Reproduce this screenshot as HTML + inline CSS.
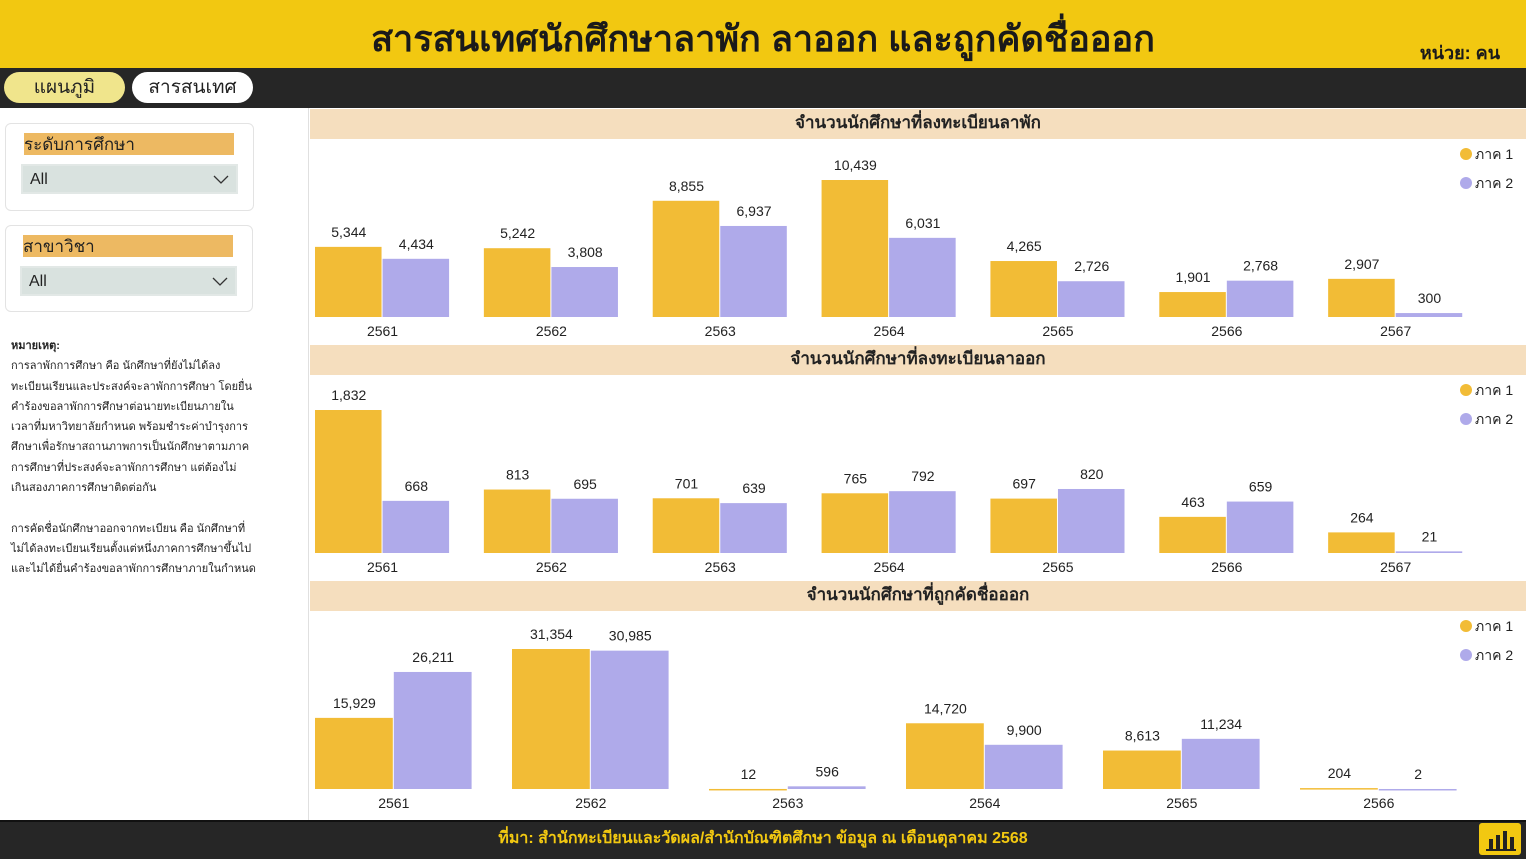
<!DOCTYPE html>
<html><head><meta charset="utf-8">
<style>
body{margin:0;width:1526px;height:857px;overflow:hidden;background:#fff;font-family:"Liberation Sans","Noto Sans CJK SC",sans-serif;position:relative}
.abs{position:absolute}
#hdr{left:0;top:0;width:1526px;height:68px;background:#F2C811}
#title{left:0;top:10px;width:1526px;text-align:center;font-size:36px;font-weight:bold;color:#1a1a1a}
#unit{right:26px;top:38px;font-size:18px;font-weight:bold;color:#1a1a1a}
#nav{left:0;top:68px;width:1526px;height:40px;background:#262626}
.pill{top:4px;height:31px;border-radius:16px;font-size:19px;text-align:center;line-height:31px;color:#222}
.card{border:1px solid #e3e3e3;border-radius:6px;background:#fff}
.slab{background:#EDB962;font-size:17px;color:#222;height:22px;line-height:24px}
.dd{background:#D9E2DF;font-size:16px;color:#222;height:30px;line-height:28px;padding-left:7px;box-sizing:border-box;border:2px solid #e2e8e6}
.dd svg{position:absolute;right:7px;top:9px}
#notes{left:11px;top:336px;font-size:11px;line-height:20.3px;color:#222;width:290px}
.band{left:310px;width:1216px;height:30px;background:#F5DEBE;text-align:center;font-size:17px;font-weight:bold;line-height:28px;color:#222}
#foot{left:0;top:820px;width:1526px;height:37px;background:#262626;border-top:2px solid #111}
#foottxt{left:0;top:826px;width:1526px;text-align:center;color:#F2C811;font-size:16px;font-weight:bold}
svg text{font-family:"Liberation Sans","Noto Sans CJK SC",sans-serif}
</style></head><body>
<div id="hdr" class="abs"></div>
<div id="title" class="abs">สารสนเทศนักศึกษาลาพัก ลาออก และถูกคัดชื่อออก</div>
<div id="unit" class="abs">หน่วย: คน</div>
<div id="nav" class="abs">
 <div class="abs pill" style="left:4px;width:121px;background:#F0E58C">แผนภูมิ</div>
 <div class="abs pill" style="left:132px;width:121px;background:#fff">สารสนเทศ</div>
</div>
<div class="abs card" style="left:5px;top:123px;width:247px;height:86px">
 <div class="abs slab" style="left:18px;top:9px;width:210px">ระดับการศึกษา</div>
 <div class="abs dd" style="left:15px;top:40px;width:217px">All<svg width="16" height="9"><polyline points="1,1 8,8 15,1" fill="none" stroke="#333" stroke-width="1.3"/></svg></div>
</div>
<div class="abs card" style="left:5px;top:225px;width:246px;height:85px">
 <div class="abs slab" style="left:17px;top:9px;width:210px">สาขาวิชา</div>
 <div class="abs dd" style="left:14px;top:40px;width:217px">All<svg width="16" height="9"><polyline points="1,1 8,8 15,1" fill="none" stroke="#333" stroke-width="1.3"/></svg></div>
</div>
<div id="notes" class="abs"><b>หมายเหตุ:</b><br>การลาพักการศึกษา คือ นักศึกษาที่ยังไม่ได้ลง<br>ทะเบียนเรียนและประสงค์จะลาพักการศึกษา โดยยื่น<br>คำร้องขอลาพักการศึกษาต่อนายทะเบียนภายใน<br>เวลาที่มหาวิทยาลัยกำหนด พร้อมชำระค่าบำรุงการ<br>ศึกษาเพื่อรักษาสถานภาพการเป็นนักศึกษาตามภาค<br>การศึกษาที่ประสงค์จะลาพักการศึกษา แต่ต้องไม่<br>เกินสองภาคการศึกษาติดต่อกัน<br><br>การคัดชื่อนักศึกษาออกจากทะเบียน คือ นักศึกษาที่<br>ไม่ได้ลงทะเบียนเรียนตั้งแต่หนึ่งภาคการศึกษาขึ้นไป<br>และไม่ได้ยื่นคำร้องขอลาพักการศึกษาภายในกำหนด</div>
<div class="abs" style="left:308px;top:108px;width:1px;height:712px;background:#e0e0e0"></div>
<div class="abs band" style="top:109px">จำนวนนักศึกษาที่ลงทะเบียนลาพัก</div>
<div class="abs band" style="top:345px">จำนวนนักศึกษาที่ลงทะเบียนลาออก</div>
<div class="abs band" style="top:581px">จำนวนนักศึกษาที่ถูกคัดชื่อออก</div>
<svg id="charts" class="abs" style="left:0;top:0" width="1526" height="857"></svg>
<div id="foot" class="abs"></div>
<div id="foottxt" class="abs">ที่มา: สำนักทะเบียนและวัดผล/สำนักบัณฑิตศึกษา ข้อมูล ณ เดือนตุลาคม 2568</div>
<svg class="abs" style="left:1479px;top:823px" width="42" height="32"><rect x="0" y="0" width="42" height="32" rx="3" fill="#F2C811"/><rect x="10" y="16" width="4" height="10" fill="#222"/><rect x="17" y="12" width="4" height="14" fill="#222"/><rect x="24" y="8" width="4" height="18" fill="#222"/><rect x="31" y="14" width="4" height="12" fill="#222"/><rect x="7" y="26" width="30" height="2" fill="#222"/></svg>
<script>
const leaveCats=["2561","2562","2563","2564","2565","2566","2567"];
const leaveT1=[5344,5242,8855,10439,4265,1901,2907];
const leaveT2=[4434,3808,6937,6031,2726,2768,300];
const wdCats=["2561","2562","2563","2564","2565","2566","2567"];
const wdT1=[1832,813,701,765,697,463,264];
const wdT2=[668,695,639,792,820,659,21];
const dsCats=["2561","2562","2563","2564","2565","2566"];
const dsT1=[15929,31354,12,14720,8613,204];
const dsT2=[26211,30985,596,9900,11234,2];

const svg=document.getElementById('charts');
const NS='http://www.w3.org/2000/svg';
function mk(tag,attrs){const e=document.createElementNS(NS,tag);for(const k in attrs)e.setAttribute(k,attrs[k]);svg.appendChild(e);return e;}
function fmt(v){return v.toLocaleString('en-US');}
function chart(cats,s1,s2,base,maxPx,prefix){
  const x0=315,x1=1497,n=cats.length,step=(x1-x0)/n,bw=step*0.4;
  const mx=Math.max(...s1,...s2);
  const y=v=>base-v/mx*maxPx;
  cats.forEach((c,i)=>{
    const px=x0+step*i;
    [[s1,'#F2BC36',0],[s2,'#AFAAEA',1]].forEach(([s,col,o],k)=>{
      const v=s[i],bx=px+o*bw,top=y(v);
      const r=mk('rect',{x:bx,y:top,width:bw-1,height:Math.max(base-top,1.5),fill:col});
      
      
      const t=mk('text',{x:bx+bw/2,y:top-10,'text-anchor':'middle','font-size':14,fill:'#222'});
      t.textContent=fmt(v);
      
      
    });
    const l=mk('text',{x:px+bw,y:base+19,'text-anchor':'middle','font-size':14,fill:'#222'});
    l.textContent=c;
    
    
  });
  const ly=base-163;
  [['ภาค 1','#F2BC36'],['ภาค 2','#AFAAEA']].forEach(([t,col],k)=>{
    const c=mk('circle',{cx:1466,cy:ly+k*29,r:6,fill:col});
    
    
    const tx=mk('text',{x:1475,y:ly+k*29+5,'font-size':14,fill:'#222'});
    tx.textContent=t;
    
    
  });
}
chart(leaveCats,leaveT1,leaveT2,317,137,'leave');
chart(wdCats,wdT1,wdT2,553,143,'withdraw');
chart(dsCats,dsT1,dsT2,789,140,'dismissed');
</script>
</body></html>
